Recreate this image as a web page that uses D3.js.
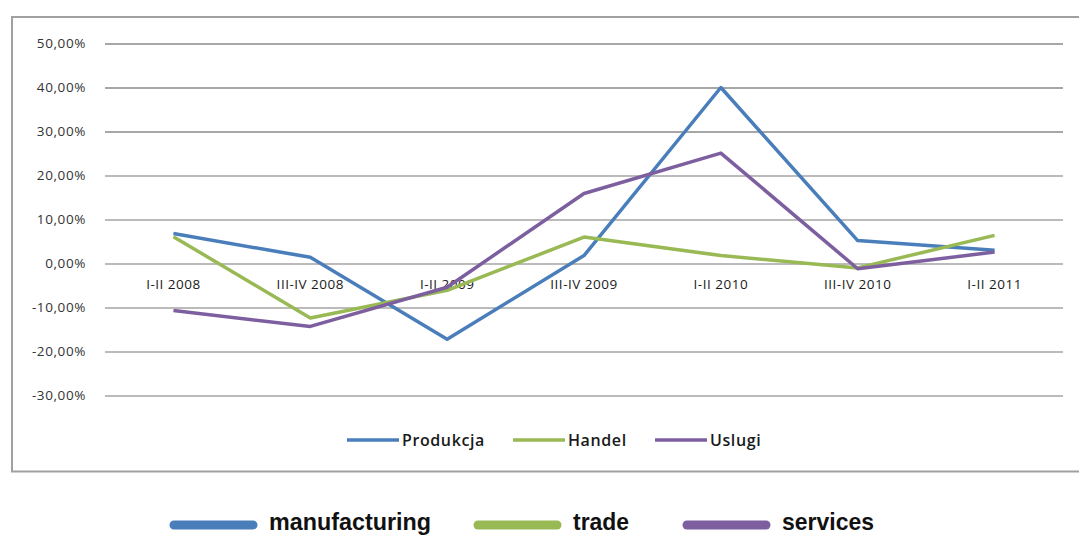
<!DOCTYPE html>
<html>
<head>
<meta charset="utf-8">
<script src="https://cdn.jsdelivr.net/npm/d3@7"></script>
<style>
  html, body { margin: 0; padding: 0; background: #fff; }
  svg { display: block; }
</style>
</head>
<body>
<svg id="chart" width="1079" height="537"></svg>
<script>
// Half-year periods on the category axis
const periods = ["I-II 2008", "III-IV 2008", "I-II 2009", "III-IV 2009", "I-II 2010", "III-IV 2010", "I-II 2011"];

// Year-on-year change, in percent
const produkcja = [6.8, 1.4, -17.2, 1.8, 40.0, 5.2, 3.0];
const handel    = [6.1, -12.4, -6.1, 6.0, 1.8, -1.0, 6.4];
const uslugi    = [-10.7, -14.3, -5.4, 15.9, 25.1, -1.2, 2.6];

const yTicks = [50, 40, 30, 20, 10, 0, -10, -20, -30];

const seriesNames = ["Produkcja", "Handel", "Uslugi"];
const englishNames = ["manufacturing", "trade", "services"];
const colors = ["#4a7ebb", "#98b954", "#7d5fa0"];

const series = [produkcja, handel, uslugi].map((vals, i) => ({
  name: seriesNames[i], en: englishNames[i], color: colors[i], values: vals
}));

const svg = d3.select("#chart");

// Outer chart frame
svg.append("path")
  .attr("d", "M1079,17 H12 V471.5 H1079")
  .attr("fill", "none")
  .attr("stroke", "#a0a0a0")
  .attr("stroke-width", 2);

const x = d3.scaleBand().domain(periods).range([105, 1063]);
const y = d3.scaleLinear().domain([-30, 50]).range([395.5, 43.5]);

// Horizontal gridlines with tick labels
const yAxis = d3.axisLeft(y).tickValues(yTicks).tickSize(0).tickPadding(19)
  .tickFormat(d => d.toFixed(2).replace(".", ",") + "%");
const gy = svg.append("g").attr("transform", "translate(105,0)").call(yAxis);
gy.select(".domain").remove();
gy.selectAll("text")
  .attr("font-family", "'Open Sans', sans-serif")
  .attr("font-size", 13.5)
  .attr("letter-spacing", 0.6)
  .attr("fill", "#333");
gy.selectAll(".tick").append("line")
  .attr("x1", 0).attr("x2", 1063 - 105)
  .attr("stroke", d => d >= 30 ? "#8a8a8a" : "#a5a5a5")
  .attr("stroke-width", 1.4);

// Category labels sit just under the zero line
const xAxis = d3.axisBottom(x).tickSize(0).tickPadding(0);
const gx = svg.append("g").attr("transform", `translate(0,${y(0) + 16})`).call(xAxis);
gx.select(".domain").remove();
gx.selectAll("text")
  .attr("font-family", "'Open Sans', sans-serif")
  .attr("font-size", 13.5)
  .attr("letter-spacing", 0.5)
  .attr("fill", "#1a1a1a");

// Series lines
const line = d3.line()
  .x((d, i) => x(periods[i]) + x.bandwidth() / 2)
  .y(d => y(d));

svg.append("g").selectAll("path")
  .data(series)
  .join("path")
  .attr("d", d => line(d.values))
  .attr("fill", "none")
  .attr("stroke", d => d.color)
  .attr("stroke-width", 3.5)
  .attr("stroke-linejoin", "round");

// Legend inside the frame
const legendX = [347, 513, 655];
const leg = svg.append("g").selectAll("g")
  .data(series)
  .join("g")
  .attr("transform", (d, i) => `translate(${legendX[i]},440)`);
leg.append("line")
  .attr("x1", 0).attr("x2", 52)
  .attr("stroke", d => d.color)
  .attr("stroke-width", 3.5);
leg.append("text")
  .attr("x", 55).attr("y", 5.5)
  .attr("font-family", "'Open Sans', sans-serif")
  .attr("font-weight", 600)
  .attr("font-size", 16)
  .attr("letter-spacing", 0.6)
  .attr("fill", "#1a1a1a")
  .text(d => d.name);

// English legend below the chart
const enX = [170, 474, 683];
const enLen = [87, 87, 87];
const enTextW = [162, 56, 92];
const enLeg = svg.append("g").selectAll("g")
  .data(series)
  .join("g")
  .attr("transform", (d, i) => `translate(${enX[i]},525)`);
enLeg.append("line")
  .attr("x1", 4).attr("x2", (d, i) => enLen[i] - 4)
  .attr("stroke", d => d.color)
  .attr("stroke-width", 9)
  .attr("stroke-linecap", "round");
enLeg.append("text")
  .attr("x", (d, i) => enLen[i] + 12)
  .attr("y", 5)
  .attr("font-family", "'Liberation Sans', Arial, sans-serif")
  .attr("font-weight", "bold")
  .attr("font-size", 24)
  .attr("textLength", (d, i) => enTextW[i])
  .attr("lengthAdjust", "spacingAndGlyphs")
  .attr("fill", "#111")
  .text(d => d.en);
</script>
</body>
</html>
